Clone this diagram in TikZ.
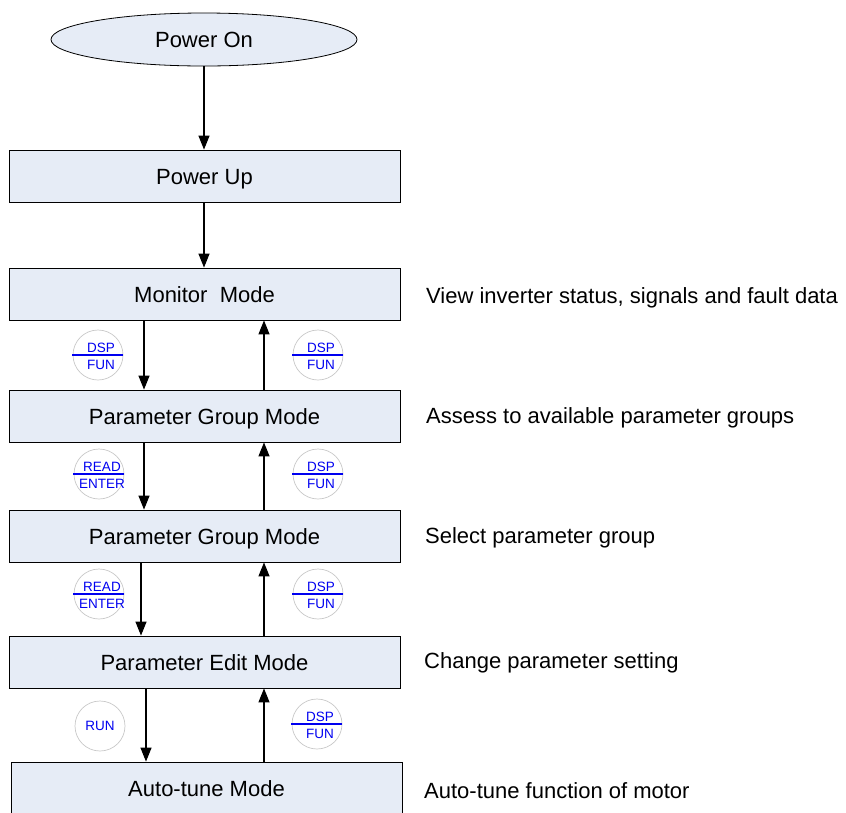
\documentclass[tikz,border=0pt]{standalone}
\usepackage{fontspec}
\setmainfont{Liberation Sans}
\usetikzlibrary{shapes.geometric,arrows.meta}
\definecolor{boxfill}{RGB}{230,236,246}
\definecolor{keyblue}{RGB}{0,0,240}
\definecolor{ringgray}{RGB}{200,200,200}
\tikzset{
  modebox/.style={draw=black, line width=0.8pt, fill=boxfill, minimum width=391pt, minimum height=52pt, inner sep=0pt, text height=16pt, text depth=0pt, font=\fontsize{22}{26}\selectfont},
  startshape/.style={ellipse, draw=black, line width=0.8pt, fill=boxfill, minimum width=306pt, minimum height=53pt, inner sep=0pt, text height=16pt, text depth=0pt, font=\fontsize{22}{26}\selectfont},
  flow/.style={line width=1.2pt, -{Triangle[length=14pt,width=11pt]}},
  keyring/.style={circle, draw=ringgray, line width=0.7pt, minimum size=50pt, inner sep=0pt},
  keytxt/.style={text=keyblue, font=\fontsize{13.5}{15}\selectfont, inner sep=0pt},
  note/.style={anchor=west, inner sep=0pt, text height=16pt, text depth=0pt, font=\fontsize{22}{26}\selectfont}
}
\begin{document}
\begin{tikzpicture}[x=1pt,y=-1pt]
\useasboundingbox (0,0) rectangle (846,812);
\begin{scope}
\clip (0,0) rectangle (846,812);
\node[startshape] (on) at (204,39.5) {Power On};
\node[modebox] (up) at (204.5,176) {Power Up};
\node[modebox] (mon) at (204.5,294) {Monitor\ \ Mode};
\node[modebox] (pg1) at (204.5,416) {Parameter Group Mode};
\node[modebox] (pg2) at (204.5,536) {Parameter Group Mode};
\node[modebox] (pe) at (204.5,662) {Parameter Edit Mode};
\node[modebox] (at) at (206.5,788) {Auto-tune Mode};
\end{scope}

\draw[flow] (on.south) -- (up.north -| on.south);
\draw[flow] (up.south -| on.south) -- (mon.north -| on.south);

\draw[flow] (mon.south -| 144,0) -- (pg1.north -| 144,0);
\draw[flow] (pg1.north -| 264,0) -- (mon.south -| 264,0);
\draw[flow] (pg1.south -| 144,0) -- (pg2.north -| 144,0);
\draw[flow] (pg2.north -| 264,0) -- (pg1.south -| 264,0);
\draw[flow] (pg2.south -| 141,0) -- (pe.north -| 141,0);
\draw[flow] (pe.north -| 264,0) -- (pg2.south -| 264,0);
\draw[flow] (pe.south -| 146,0) -- (at.north -| 146,0);
\draw[flow] (at.north -| 264,0) -- (pe.south -| 264,0);

% key circles
\foreach \nm/\cx/\cy/\ta/\tb in {k1/98/355/DSP/FUN, k2/318/355/DSP/FUN, k3/99/474/READ/ENTER, k4/318/474/DSP/FUN, k5/99/594/READ/ENTER, k6/318/594/DSP/FUN, k8/317/724/DSP/FUN}{
  \node[keyring] (\nm) at (\cx,\cy) {};
  \draw[keyblue, line width=1.3pt] ([xshift=-26pt]\nm.center) -- ([xshift=25pt]\nm.center);
  \node[keytxt, anchor=base] at ([xshift=3pt,yshift=3pt]\nm.center) {\ta};
  \node[keytxt, anchor=base] at ([xshift=3pt,yshift=-14pt]\nm.center) {\tb};
}
\node[keyring] (k7) at (100,726) {};
\node[keytxt] at (k7.center) {RUN};

\node[note] (n1) at (426,295) {View inverter status, signals and fault data};
\node[note] (n2) at (426,415) {Assess to available parameter groups};
\node[note] (n3) at (425,535) {Select parameter group};
\node[note] (n4) at (424,660) {Change parameter setting};
\node[note] (n5) at (424,790) {Auto-tune function of motor};
\end{tikzpicture}
\end{document}
